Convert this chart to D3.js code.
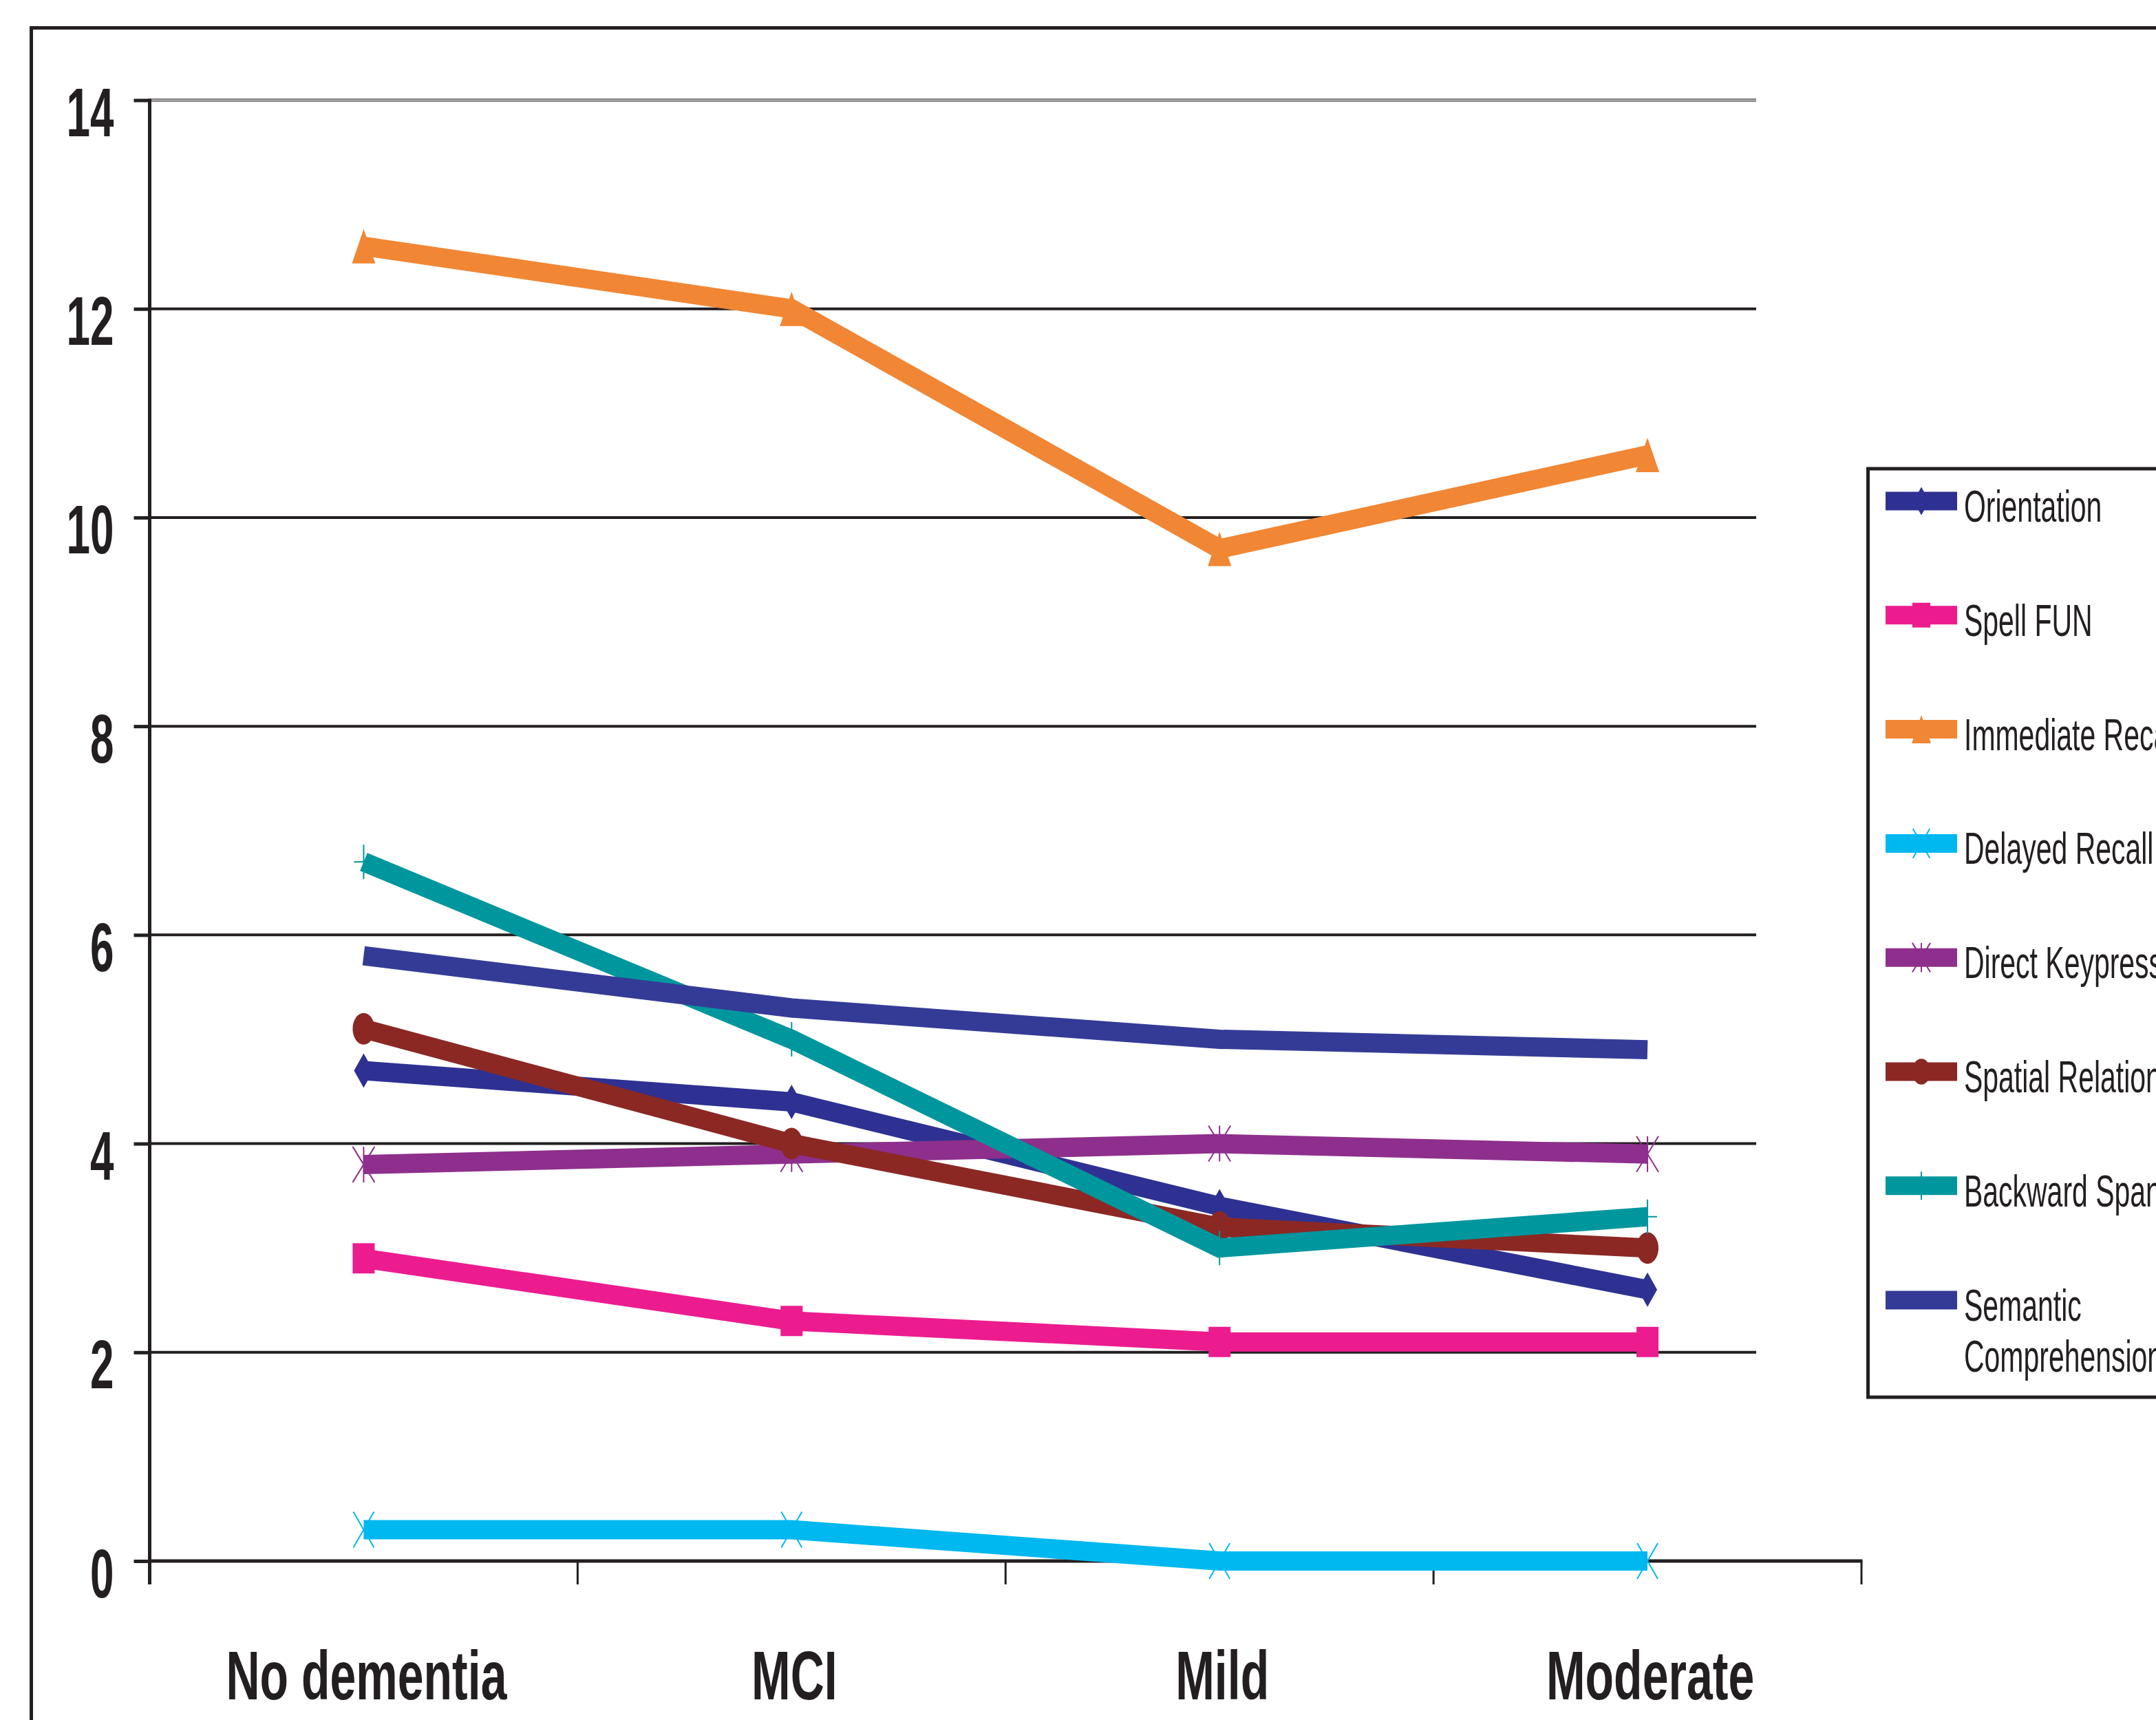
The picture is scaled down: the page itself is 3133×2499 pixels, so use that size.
<!DOCTYPE html>
<html>
<head>
<meta charset="utf-8">
<script src="https://cdn.jsdelivr.net/npm/d3@7"></script>
<style>
  html, body { margin: 0; padding: 0; background: #ffffff; }
  svg { display: block; }
</style>
</head>
<body>
<script>
// Test groups on the x axis
const categories = ["No dementia", "MCI", "Mild", "Moderate"];

// Mean score per group for each subtest
const orientation           = [4.7, 4.4, 3.4, 2.6];
const spellFun              = [2.9, 2.3, 2.1, 2.1];
const immediateRecall       = [12.6, 12.0, 9.7, 10.6];
const delayedRecall         = [0.3, 0.3, 0.0, 0.0];
const directKeypress        = [3.8, 3.9, 4.0, 3.9];
const spatialRelation       = [5.1, 4.0, 3.2, 3.0];
const backwardSpan          = [6.7, 5.0, 3.0, 3.3];
const semanticComprehension = [5.8, 5.3, 5.0, 4.9];

// Legend labels (one array entry per line of text)
const seriesLabels = [
  ["Orientation"],
  ["Spell FUN"],
  ["Immediate Recall"],
  ["Delayed Recall"],
  ["Direct Keypress"],
  ["Spatial Relations"],
  ["Backward Span"],
  ["Semantic", "Comprehension"]
];

const yTicks = [0, 2, 4, 6, 8, 10, 12, 14];

// Series styling
const series = [
  { label: seriesLabels[0], values: orientation,           color: "#2e3192", marker: "diamond" },
  { label: seriesLabels[1], values: spellFun,              color: "#ec1c8f", marker: "square" },
  { label: seriesLabels[2], values: immediateRecall,       color: "#f18634", marker: "triangle" },
  { label: seriesLabels[3], values: delayedRecall,         color: "#00b8f0", marker: "x" },
  { label: seriesLabels[4], values: directKeypress,        color: "#8e2f8d", marker: "star" },
  { label: seriesLabels[5], values: spatialRelation,       color: "#8b2824", marker: "circle" },
  { label: seriesLabels[6], values: backwardSpan,          color: "#00969e", marker: "plus" },
  { label: seriesLabels[7], values: semanticComprehension, color: "#343b96", marker: "none" }
];

const W = 3133, H = 2499;
const INK = "#231f20";
const FONT = "'Liberation Sans', Arial, Helvetica, sans-serif";

const svg = d3.select("body").append("svg")
  .attr("width", W).attr("height", H)
  .attr("viewBox", `0 0 ${W} ${H}`);

svg.append("rect").attr("width", W).attr("height", H).attr("fill", "#ffffff");

// Chart-area frame (continues past the right and bottom edges)
svg.append("rect")
  .attr("x", 45.5).attr("y", 40.5)
  .attr("width", 4000).attr("height", 4000)
  .attr("fill", "none").attr("stroke", INK).attr("stroke-width", 5);

// Plot geometry
const plotLeft = 217.5, axisRight = 2705, gridRight = 2552;
const yZero = 2268, yTop = 145.5;

const x = d3.scaleBand().domain(categories).range([plotLeft, axisRight]);
const y = d3.scaleLinear().domain([0, 14]).range([yZero, yTop]);
const cx = c => x(c) + x.bandwidth() / 2;

// Horizontal gridlines
const grid = svg.append("g");
grid.selectAll("line.grid")
  .data(yTicks.filter(v => v > 0 && v < 14))
  .join("line")
  .attr("class", "grid")
  .attr("x1", plotLeft).attr("x2", gridRight)
  .attr("y1", d => y(d)).attr("y2", d => y(d))
  .attr("stroke", INK).attr("stroke-width", 4);

// Top gridline drawn as a double hairline
const topV = yTicks[yTicks.length - 1];
grid.append("line")
  .attr("x1", plotLeft).attr("x2", gridRight)
  .attr("y1", y(topV)).attr("y2", y(topV))
  .attr("stroke", "#5a5758").attr("stroke-width", 4.5);
grid.append("line")
  .attr("x1", plotLeft).attr("x2", gridRight)
  .attr("y1", y(topV)).attr("y2", y(topV))
  .attr("stroke", "#d6d6d6").attr("stroke-width", 1.5);

// Y axis with ticks and condensed bold labels
const yAxis = svg.append("g")
  .attr("transform", `translate(${plotLeft},0)`)
  .call(d3.axisLeft(y).tickValues(yTicks).tickSize(23).tickFormat(d3.format("d")));
yAxis.select(".domain").remove();
yAxis.selectAll(".tick line").attr("stroke", INK).attr("stroke-width", 5);
yAxis.selectAll(".tick text")
  .attr("x", null).attr("dy", null)
  .attr("transform", "translate(-52,52) scale(0.62,1)")
  .attr("text-anchor", "end")
  .attr("fill", INK)
  .style("font-family", FONT).style("font-weight", "bold").style("font-size", "100px");
svg.append("line")
  .attr("x1", plotLeft).attr("x2", plotLeft)
  .attr("y1", yTop - 2).attr("y2", yZero + 34)
  .attr("stroke", INK).attr("stroke-width", 5);

// X axis: baseline, ticks at band edges, category labels at band centres
const xAxis = svg.append("g")
  .attr("transform", `translate(0,${yZero})`)
  .call(d3.axisBottom(x).tickSize(0));
xAxis.select(".domain").remove();
xAxis.selectAll(".tick text")
  .attr("y", null).attr("dy", null)
  .attr("transform", "translate(4,201) scale(0.68,1)")
  .attr("text-anchor", "middle")
  .attr("fill", INK)
  .style("font-family", FONT).style("font-weight", "bold").style("font-size", "100px");

const edges = categories.map(c => x(c)).concat([x.range()[1]]);
svg.append("g").selectAll("line")
  .data(edges.slice(1))
  .join("line")
  .attr("x1", d => d).attr("x2", d => d)
  .attr("y1", yZero).attr("y2", yZero + 34)
  .attr("stroke", INK).attr("stroke-width", 3);
svg.append("line")
  .attr("x1", plotLeft).attr("x2", axisRight + 1.5)
  .attr("y1", yZero).attr("y2", yZero)
  .attr("stroke", INK).attr("stroke-width", 5);

// Marker shapes; w/h are full width and height
function markerPath(type, w, h) {
  const a = w / 2, b = h / 2;
  switch (type) {
    case "diamond":  return `M0,${-b}L${a},0L0,${b}L${-a},0Z`;
    case "square":   return `M${-a},${-b}H${a}V${b}H${-a}Z`;
    case "triangle": return `M0,${-b}L${a},${b}H${-a}Z`;
    case "circle":   return `M${-a},0A${a},${b} 0 1,0 ${a},0A${a},${b} 0 1,0 ${-a},0Z`;
    case "x":        return `M${-a},${-b}L${a},${b}M${a},${-b}L${-a},${b}`;
    case "star":     return `M${-a},${-b}L${a},${b}M${a},${-b}L${-a},${b}M0,${-b}V${b}`;
    case "plus":     return `M0,${-b}V${b}M${-a},0H${a}`;
    default:         return "";
  }
}
const markerSize = {
  diamond: [28, 50], square: [32, 44], triangle: [34, 50], circle: [32, 46],
  x: [30, 52], star: [32, 52], plus: [28, 50], none: [0, 0]
};
const filledMarker = t => ["diamond", "square", "triangle", "circle"].includes(t);

function drawMarker(g, type, color, tx, ty, k) {
  if (type === "none") return;
  const [w, h] = markerSize[type];
  const p = g.append("path")
    .attr("d", markerPath(type, w * k, h * k))
    .attr("transform", `translate(${tx},${ty})`);
  if (filledMarker(type)) p.attr("fill", color).attr("stroke", "none");
  else p.attr("fill", "none").attr("stroke", color).attr("stroke-width", 2);
}

// Data lines, one per subtest
const line = d3.line()
  .x((d, i) => cx(categories[i]))
  .y(d => y(d));

const plot = svg.append("g");
series.forEach(s => {
  const g = plot.append("g");
  g.append("path")
    .attr("d", line(s.values))
    .attr("fill", "none")
    .attr("stroke", s.color)
    .attr("stroke-width", 28)
    .attr("stroke-linejoin", "miter")
    .attr("stroke-linecap", "butt");
  s.values.forEach((v, i) => drawMarker(g, s.marker, s.color, cx(categories[i]), y(v), 1));
});

// Legend
const legendX = 2714.5, legendY = 681, legendBottom = 2030;
const legend = svg.append("g");
legend.append("rect")
  .attr("x", legendX).attr("y", legendY)
  .attr("width", 1000).attr("height", legendBottom - legendY)
  .attr("fill", "#ffffff").attr("stroke", INK).attr("stroke-width", 5);

const rowY = i => 728 + i * 165.8;
series.forEach((s, i) => {
  const ry = i === series.length - 1 ? 1889 : rowY(i);
  const g = legend.append("g");
  g.append("line")
    .attr("x1", 2740).attr("x2", 2844)
    .attr("y1", ry).attr("y2", ry)
    .attr("stroke", s.color).attr("stroke-width", 27);
  drawMarker(g, s.marker, s.color, 2792, ry, 0.82);
  s.label.forEach((t, j) => {
    g.append("text")
      .attr("transform", `translate(2854,${ry + 30 + j * 74}) scale(0.64,1)`)
      .attr("fill", INK)
      .style("font-family", FONT).style("font-size", "64px")
      .text(t);
  });
});
</script>
</body>
</html>
